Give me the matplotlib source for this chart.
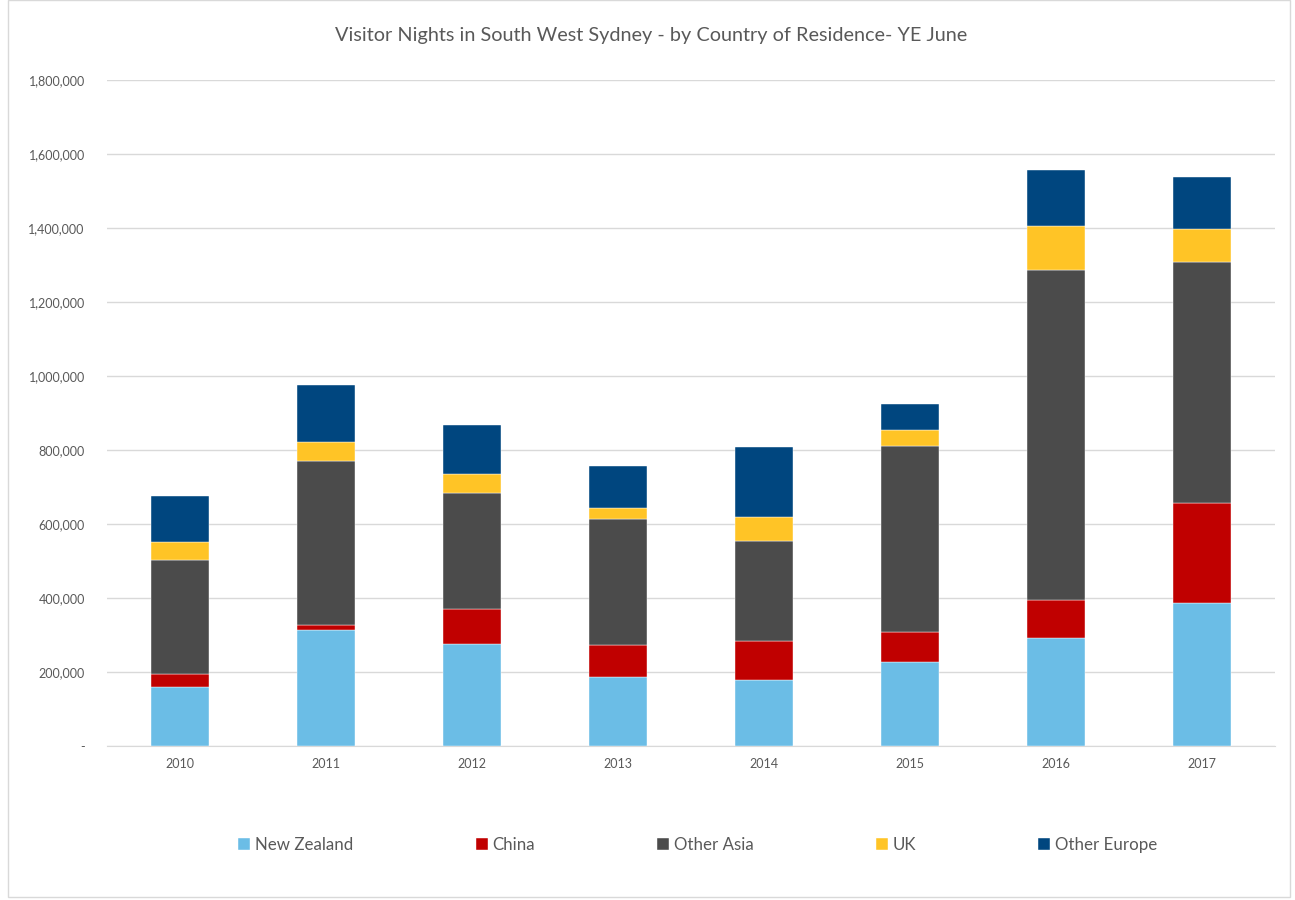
import matplotlib
matplotlib.use("Agg")
import matplotlib.pyplot as plt
from matplotlib.patches import Rectangle
from matplotlib.ticker import FuncFormatter
import numpy as np

years = ["2010", "2011", "2012", "2013", "2014", "2015", "2016", "2017"]
new_zealand = [160000, 314000, 277000, 187000, 179000, 226000, 293000, 387000]
china = [34000, 13000, 94000, 87000, 105000, 83000, 102000, 270000]
other_asia = [308000, 442000, 314000, 339000, 271000, 503000, 891000, 650000]
uk = [49000, 52000, 49000, 31000, 63000, 42000, 119000, 90000]
other_europe = [125000, 156000, 133000, 113000, 189000, 69000, 151000, 141000]

series_names = ["New Zealand", "China", "Other Asia", "UK", "Other Europe"]
series = [new_zealand, china, other_asia, uk, other_europe]
colors = ["#6BBDE6", "#C00000", "#4B4B4B", "#FFC426", "#00467F"]

plt.rcParams['font.family'] = ['Lato', 'DejaVu Sans']

fig = plt.figure(figsize=(12.95, 9), dpi=100)
ax = fig.add_axes([107 / 1295, 154 / 900, 1168 / 1295, 666 / 900])

x = np.arange(len(years))
bottom = np.zeros(len(years))
for name, vals, c in zip(series_names, series, colors):
    vals = np.array(vals, dtype=float)
    ax.bar(x, vals, width=0.4, bottom=bottom, color=c, label=name, zorder=3,
           edgecolor='white', linewidth=0.3)
    bottom += vals

ax.set_xlim(-0.5, len(years) - 0.5)
ax.set_ylim(0, 1800000)
ax.set_yticks(np.arange(0, 1800001, 200000))
ax.yaxis.set_major_formatter(FuncFormatter(lambda v, p: "-" if v == 0 else f"{int(v):,}"))
ax.set_xticks(x)
ax.set_xticklabels(years)
ax.tick_params(axis='both', length=0, labelsize=9, colors='#595959')
ax.tick_params(axis='y', pad=16)
ax.tick_params(axis='x', pad=9)
ax.grid(axis='y', color='#D9D9D9', linewidth=1, zorder=0)
for s in ['top', 'right', 'left']:
    ax.spines[s].set_visible(False)
ax.spines['bottom'].set_color('#D9D9D9')

fig.text(651 / 1295, 1 - 35 / 900, "Visitor Nights in South West Sydney - by Country of Residence- YE June",
         ha='center', va='center', fontsize=14.3, color='#595959')

handles, labels = ax.get_legend_handles_labels()
leg = fig.legend(handles, labels, loc='center', bbox_to_anchor=(698 / 1295, 1 - 845 / 900),
                 ncol=5, frameon=False, fontsize=12.2, handlelength=0.7, handleheight=0.7,
                 handletextpad=0.3, columnspacing=7.2)
for t in leg.get_texts():
    t.set_color('#595959')

fig.patches.append(Rectangle((8 / 1295, 3 / 900), 1282 / 1295, 897 / 900,
                             transform=fig.transFigure, fill=False,
                             edgecolor='#D9D9D9', linewidth=1))

fig.savefig("out.png", dpi=100)
